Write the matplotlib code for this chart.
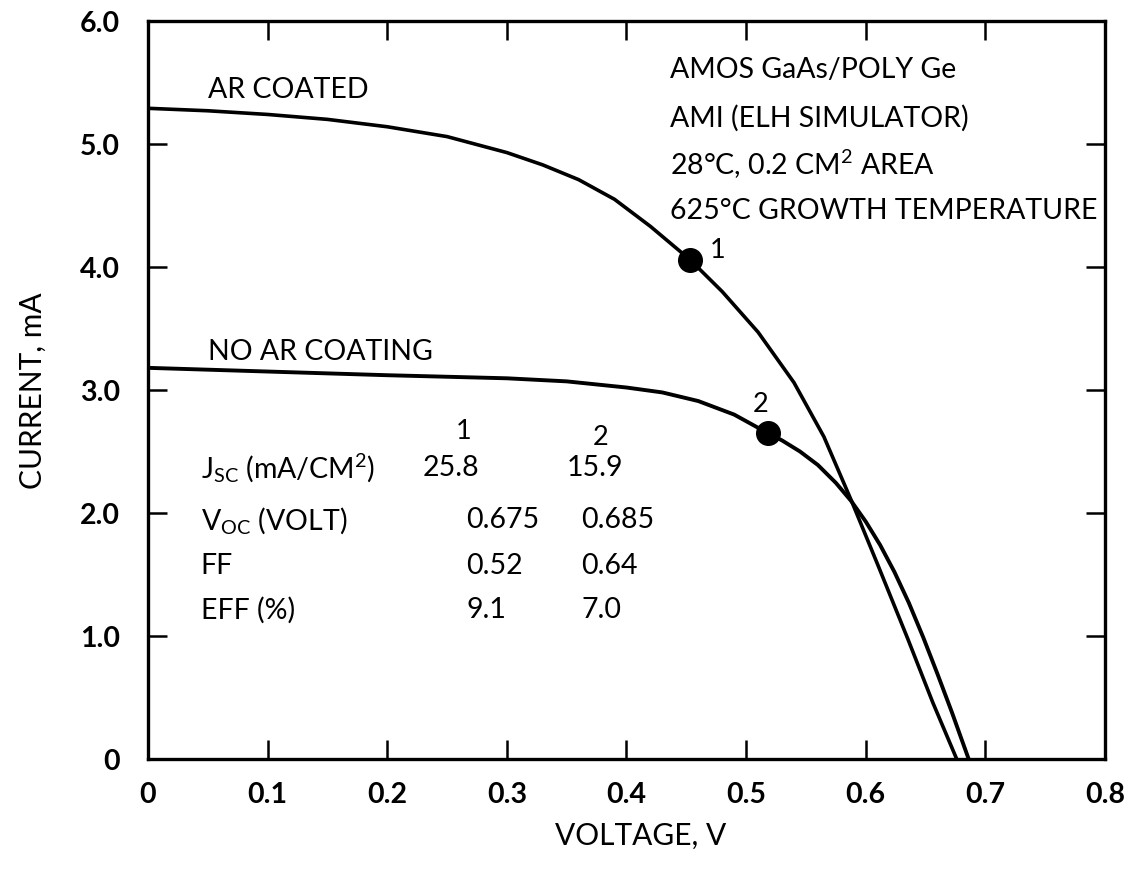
import matplotlib
matplotlib.use("Agg")
import matplotlib.pyplot as plt

# I-V curves (voltage V, current mA)
v_ar = [0.000, 0.050, 0.100, 0.150, 0.200, 0.250, 0.300, 0.330, 0.360,
        0.390, 0.420, 0.453, 0.480, 0.510, 0.540, 0.565, 0.588, 0.610,
        0.635, 0.656, 0.676]
i_ar = [5.29, 5.27, 5.24, 5.20, 5.14, 5.06, 4.93, 4.83, 4.71,
        4.55, 4.33, 4.06, 3.80, 3.47, 3.06, 2.62, 2.10, 1.58,
        0.98, 0.46, 0.00]

v_noar = [0.000, 0.100, 0.200, 0.300, 0.350, 0.400, 0.430, 0.460, 0.490,
          0.518, 0.530, 0.545, 0.560, 0.575, 0.588, 0.600, 0.612, 0.624,
          0.636, 0.648, 0.660, 0.672, 0.686]
i_noar = [3.18, 3.15, 3.12, 3.095, 3.07, 3.02, 2.98, 2.91, 2.80,
          2.65, 2.59, 2.50, 2.39, 2.245, 2.095, 1.93, 1.74, 1.52,
          1.27, 0.99, 0.69, 0.38, 0.00]

# max power points
mp_v = [0.453, 0.518]
mp_i = [4.06, 2.65]
mp_labels = ["1", "2"]

xticks = [0.0, 0.1, 0.2, 0.3, 0.4, 0.5, 0.6, 0.7, 0.8]
xticklabels = ["0", "0.1", "0.2", "0.3", "0.4", "0.5", "0.6", "0.7", "0.8"]
yticks = [0, 1, 2, 3, 4, 5, 6]
yticklabels = ["0", "1.0", "2.0", "3.0", "4.0", "5.0", "6.0"]

info_lines = ["AMOS GaAs/POLY Ge",
              "AMI (ELH SIMULATOR)",
              r"28°C, 0.2 CM$\mathregular{^2}$ AREA",
              "625°C GROWTH TEMPERATURE"]

row_names = [r"J$\mathregular{_{SC}}$ (mA/CM$\mathregular{^2}$)",
             r"V$\mathregular{_{OC}}$ (VOLT)",
             "FF",
             "EFF (%)"]
col1 = ["25.8", "0.675", "0.52", "9.1"]
col2 = ["15.9", "0.685", "0.64", "7.0"]

plt.rcParams['font.family'] = ['Lato', 'DejaVu Sans']
plt.rcParams['mathtext.default'] = 'regular'

fig = plt.figure(figsize=(11.33, 8.79), dpi=100)
ax = fig.add_axes([0.1306, 0.1354, 0.8447, 0.8396])

ax.plot(v_ar, i_ar, color='black', lw=2.6, solid_joinstyle='round')
ax.plot(v_noar, i_noar, color='black', lw=2.8, solid_joinstyle='round')
ax.plot(mp_v, mp_i, 'o', color='black', markersize=17)

fs = 20.5
ax.text(mp_v[0] + 0.017, mp_i[0] - 0.02, mp_labels[0], fontsize=fs - 1, ha='left', va='bottom')
ax.text(mp_v[1] - 0.006, mp_i[1] + 0.14, mp_labels[1], fontsize=fs - 1, ha='center', va='bottom')

ax.text(0.050, 5.45, "AR COATED", fontsize=fs, va='center')
ax.text(0.050, 3.32, "NO AR COATING", fontsize=fs, va='center')

info_y = [5.61, 5.22, 4.84, 4.46]
for s, yy in zip(info_lines, info_y):
    ax.text(0.436, yy, s, fontsize=fs, va='center')

# parameter table
row_y = [2.37, 1.95, 1.58, 1.22]
ax.text(0.264, 2.67, "1", fontsize=fs - 1, ha='center', va='center')
ax.text(0.378, 2.62, "2", fontsize=fs - 1, ha='center', va='center')
for name, a, b, yy in zip(row_names, col1, col2, row_y):
    ax.text(0.044, yy, name, fontsize=fs, va='center')
    ax.text(0.266 if a != "25.8" else 0.230, yy, a, fontsize=fs, va='center')
    ax.text(0.362 if b != "15.9" else 0.350, yy, b, fontsize=fs, va='center')

ax.set_xlim(0, 0.8)
ax.set_ylim(0, 6)
ax.set_xticks(xticks)
ax.set_xticklabels(xticklabels)
ax.set_yticks(yticks)
ax.set_yticklabels(yticklabels)
ax.tick_params(direction='in', length=14, width=1.8, top=True, right=True,
               labelsize=20.5, pad=16)
ax.tick_params(axis='y', pad=20)
for lab in ax.get_xticklabels() + ax.get_yticklabels():
    lab.set_fontweight('bold')
for sp in ax.spines.values():
    sp.set_linewidth(2.4)

ax.set_xlabel("VOLTAGE, V", fontsize=21.5)
ax.xaxis.set_label_coords(0.515, -0.084)
ax.set_ylabel("CURRENT, mA", fontsize=21.5, labelpad=24)

fig.savefig("out.png", dpi=100)
